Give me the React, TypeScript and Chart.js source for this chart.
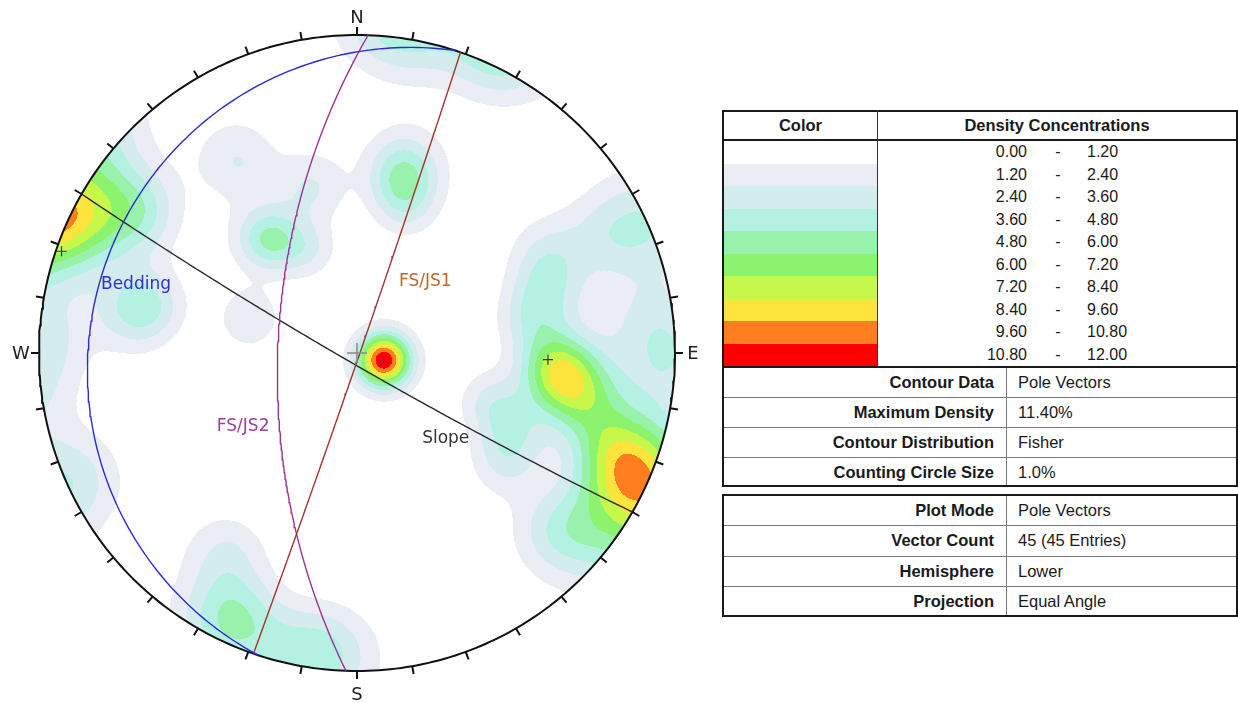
import React, { useEffect, useRef } from 'react';
import { Chart, registerables } from 'chart.js';

Chart.register(...registerables);

// ---------------- data ----------------
const planeNames = ['Bedding', 'FS/JS1', 'FS/JS2', 'Slope'];
const planeDipDirections = [288, 109, 272, 210];
const planeDips = [10, 89, 62, 86];
const planeShowsPole = [true, true, true, false];

// pole vectors (trend / plunge, degrees), 45 entries
const poleTrends = [
  105, 105, 105, 105, 105,
  96, 96, 92, 99, 72, 63, 79, 103, 115, 126, 110,
  114, 116, 112, 109, 128, 132,
  294, 302, 303,
  84, 273,
  205, 205, 190, 185,
  15, 14, 18,
  322, 322, 334,
  328, 345, 288, 281, 283, 246, 65, 213,
];
const polePlunges = [
  80, 80, 80, 80, 80,
  24, 24, 28, 21, 26, 22, 32, 16, 33, 30, 42,
  1, 4, 6, 9, 5, 10,
  2, 12, 8,
  4, 0,
  4, 4, 2, 3,
  31, 27, 38,
  41, 41, 50,
  19, 33, 51, 19, 22, 2, 7, 16,
];

const densityBreaks = [0, 1.2, 2.4, 3.6, 4.8, 6.0, 7.2, 8.4, 9.6, 10.8, 12.0];
const densityColors = [
  '#ffffff', '#eaedf4', '#d5ecef', '#b5f1e2', '#98f2ac',
  '#8cf36e', '#c8f74c', '#fde43c', '#fd7d1f', '#ff0000',
];

const contourInfoLabels = ['Contour Data', 'Maximum Density', 'Contour Distribution', 'Counting Circle Size'];
const contourInfoValues = ['Pole Vectors', '11.40%', 'Fisher', '1.0%'];
const plotInfoLabels = ['Plot Mode', 'Vector Count', 'Hemisphere', 'Projection'];
const plotInfoValues = ['Pole Vectors', '45 (45 Entries)', 'Lower', 'Equal Angle'];

const compassLabels = ['N', 'E', 'S', 'W'];
const compassAzimuths = [0, 90, 180, 270];
const tickAzimuths = Array.from({ length: 36 }, (_, i) => i * 10);

// ---------------- styles ----------------
const planeColors = ['#2b2bd2', '#a3352e', '#9a3498', '#2a2a2a'];
const planeLabelColors = ['#2d2dd0', '#c2652c', '#a03ea0', '#333333'];
const planeLabelAnchors = [
  [-0.695, 0.214],
  [0.215, 0.225],
  [-0.358, -0.232],
  [0.279, -0.268],
];
const compassOffsetsPx = [18, 18, 23, 18];
const KAPPA = 70;
const KERNEL_WEIGHT = 1.07;

// ---------------- geometry helpers ----------------
const RAD = Math.PI / 180;
function project(trend: number, plunge: number) {
  const r = Math.tan(((90 - plunge) / 2) * RAD);
  return { x: r * Math.sin(trend * RAD), y: r * Math.cos(trend * RAD) };
}
function toVec(trend: number, plunge: number): number[] {
  const c = Math.cos(plunge * RAD);
  return [c * Math.sin(trend * RAD), c * Math.cos(trend * RAD), Math.sin(plunge * RAD)];
}
function vecToTrendPlunge(v: number[]) {
  let [e, n, d] = v;
  if (d < 0) { e = -e; n = -n; d = -d; }
  const pl = Math.asin(Math.min(1, d)) / RAD;
  const tr = Math.atan2(e, n) / RAD;
  return [tr, pl];
}
function greatCircle(dipDir: number, dip: number) {
  const s = [Math.sin((dipDir - 90) * RAD), Math.cos((dipDir - 90) * RAD), 0];
  const dv = toVec(dipDir, dip);
  const pts: { x: number; y: number }[] = [];
  for (let t = 0; t <= 180; t += 1) {
    const c = Math.cos(t * RAD), sn = Math.sin(t * RAD);
    const v = [s[0] * c + dv[0] * sn, s[1] * c + dv[1] * sn, s[2] * c + dv[2] * sn];
    const [tr, pl] = vecToTrendPlunge(v);
    pts.push(project(tr, pl));
  }
  return pts;
}
function hexToRgb(h: string) {
  const n = parseInt(h.slice(1), 16);
  return [(n >> 16) & 255, (n >> 8) & 255, n & 255];
}

// ---------------- plugins ----------------
const densityPlugin = {
  id: 'densityLayer',
  beforeDatasetsDraw(chart: any) {
    const xs = chart.scales.x, ys = chart.scales.y, ctx = chart.ctx;
    const left = Math.floor(xs.getPixelForValue(-1)) - 1;
    const right = Math.ceil(xs.getPixelForValue(1)) + 1;
    const top = Math.floor(ys.getPixelForValue(1)) - 1;
    const bottom = Math.ceil(ys.getPixelForValue(-1)) + 1;
    const w = right - left, h = bottom - top;
    const off = document.createElement('canvas');
    off.width = w; off.height = h;
    const octx = off.getContext('2d')!;
    const img = octx.createImageData(w, h);
    const poles = poleTrends.map((t, i) => toVec(t, polePlunges[i]));
    const scale = (100 / poles.length) * KERNEL_WEIGHT;
    const rgb = densityColors.map(hexToRgb);
    const colX = new Float64Array(w);
    for (let i = 0; i < w; i++) colX[i] = xs.getValueForPixel(left + i + 0.5);
    for (let j = 0; j < h; j++) {
      const Y = ys.getValueForPixel(top + j + 0.5);
      for (let i = 0; i < w; i++) {
        const X = colX[i];
        const r2 = X * X + Y * Y;
        if (r2 > 1) continue;
        const k = 1 / (1 + r2);
        const e = 2 * X * k, n = 2 * Y * k, d = (1 - r2) * k;
        let s = 0;
        for (let p = 0; p < poles.length; p++) {
          const pv = poles[p];
          const c = Math.abs(e * pv[0] + n * pv[1] + d * pv[2]);
          if (c > 0.8) s += Math.exp(KAPPA * (c - 1));
        }
        const dens = s * scale;
        let lvl = 0;
        for (let b = 1; b < densityBreaks.length - 1; b++) if (dens >= densityBreaks[b]) lvl = b;
        const col = rgb[lvl];
        const o = (j * w + i) * 4;
        img.data[o] = col[0]; img.data[o + 1] = col[1]; img.data[o + 2] = col[2]; img.data[o + 3] = 255;
      }
    }
    octx.putImageData(img, 0, 0);
    ctx.save();
    ctx.drawImage(off, left, top);
    ctx.restore();
  },
};

const overlayPlugin = {
  id: 'stereoOverlay',
  afterDatasetsDraw(chart: any) {
    const xs = chart.scales.x, ys = chart.scales.y, ctx = chart.ctx;
    const cx = xs.getPixelForValue(0), cy = ys.getPixelForValue(0);
    const R = xs.getPixelForValue(1) - cx;
    ctx.save();
    ctx.strokeStyle = '#111';
    ctx.lineWidth = 2;
    tickAzimuths.forEach((az) => {
      const sx = Math.sin(az * RAD), sy = Math.cos(az * RAD);
      ctx.beginPath();
      ctx.moveTo(xs.getPixelForValue(sx), ys.getPixelForValue(sy));
      ctx.lineTo(cx + (R + 8) * sx, cy - (R + 8) * sy);
      ctx.stroke();
    });
    ctx.fillStyle = '#222';
    ctx.font = '18px "DejaVu Sans", Verdana, sans-serif';
    ctx.textAlign = 'center';
    ctx.textBaseline = 'middle';
    compassLabels.forEach((lab, i) => {
      const az = compassAzimuths[i];
      const d = R + compassOffsetsPx[i];
      ctx.fillText(lab, cx + d * Math.sin(az * RAD), cy - d * Math.cos(az * RAD) + 1);
    });
    ctx.font = '17px "DejaVu Sans", Verdana, sans-serif';
    planeNames.forEach((name, i) => {
      const [ax, ay] = planeLabelAnchors[i];
      ctx.fillStyle = planeLabelColors[i];
      ctx.fillText(name, xs.getPixelForValue(ax), ys.getPixelForValue(ay));
    });
    ctx.restore();
  },
};

// ---------------- chart ----------------
function Stereonet() {
  const ref = useRef<HTMLCanvasElement | null>(null);
  useEffect(() => {
    if (!ref.current) return;
    const primitive = Array.from({ length: 361 }, (_, a) => ({ x: Math.sin(a * RAD), y: Math.cos(a * RAD) }));
    const datasets: any[] = [];
    datasets.push({
      data: primitive, showLine: true, pointRadius: 0, borderColor: '#111', borderWidth: 2,
      fill: false, clip: false, order: 5,
    });
    planeNames.forEach((name, i) => {
      datasets.push({
        label: name, data: greatCircle(planeDipDirections[i], planeDips[i]), showLine: true,
        pointRadius: 0, borderColor: planeColors[i], borderWidth: 1.4, fill: false, clip: false, order: 3,
      });
    });
    const poleIdx = planeNames.map((_, i) => i).filter((i) => planeShowsPole[i]);
    datasets.push({
      label: 'Plane poles',
      data: poleIdx.map((i) => project(planeDipDirections[i] + 180, 90 - planeDips[i])),
      pointStyle: 'cross', pointRadius: 5, pointBorderWidth: 1.2,
      pointBorderColor: poleIdx.map((i) => (i === 0 ? '#5a2a9a' : '#3a3034')),
      showLine: false, clip: false, order: 1,
    });
    datasets.push({
      label: 'Centre', data: [{ x: 0, y: 0 }], pointStyle: 'cross', pointRadius: 10,
      pointBorderWidth: 1.5, pointBorderColor: '#8a8a8a', showLine: false, clip: false, order: 2,
    });
    const chart = new Chart(ref.current, {
      type: 'scatter',
      data: { datasets },
      options: {
        animation: false,
        responsive: false,
        events: [],
        layout: { padding: { left: 39, right: 39, top: 35, bottom: 32 } },
        scales: {
          x: { type: 'linear', min: -1, max: 1, display: false },
          y: { type: 'linear', min: -1, max: 1, display: false },
        },
        plugins: { legend: { display: false }, tooltip: { enabled: false } },
      },
      plugins: [densityPlugin, overlayPlugin],
    } as any);
    return () => chart.destroy();
  }, []);
  return <canvas ref={ref} width={714} height={703} style={{ position: 'absolute', left: 0, top: 0 }} />;
}

// ---------------- table ----------------
const FONT = '"Liberation Sans", Arial, Helvetica, sans-serif';
const abs = (x: number, y: number, w: number, h: number, extra: any = {}) => ({
  position: 'absolute' as const, left: x, top: y, width: w, height: h, boxSizing: 'border-box' as const, ...extra,
});
const textCell = (x: number, y: number, w: number, h: number, align: string, bold: boolean, size = 16.5) =>
  abs(x, y, w, h, {
    display: 'flex', alignItems: 'center',
    justifyContent: align === 'right' ? 'flex-end' : align === 'center' ? 'center' : 'flex-start',
    fontFamily: FONT, fontSize: size, fontWeight: bold ? 'bold' : 'normal', color: '#1a1a1a', whiteSpace: 'nowrap',
  });

function InfoTable() {
  const rowH = 22.5;
  const bandTop = 141;
  const lower1 = [367, 397, 427, 457, 487];
  const lower2 = [495, 525.5, 556, 586.5, 617];
  const els: any[] = [];
  els.push(<div key="t1" style={abs(722, 110, 516, 377, { border: '2px solid #1a1a1a' })} />);
  els.push(<div key="hl" style={abs(722, 139, 516, 2, { background: '#1a1a1a' })} />);
  els.push(<div key="vd" style={abs(877, 110, 1, 257, { background: '#333' })} />);
  els.push(<div key="hc" style={textCell(724, 112, 153, 27, 'center', true)}>Color</div>);
  els.push(<div key="hd" style={textCell(878, 112, 358, 27, 'center', true)}>Density Concentrations</div>);
  densityColors.forEach((c, i) => {
    const y = bandTop + rowH * i;
    els.push(<div key={'b' + i} style={abs(724, Math.round(y), 153, Math.round(y + rowH) - Math.round(y), { background: c })} />);
    els.push(<div key={'lo' + i} style={textCell(940, y, 87, rowH, 'right', false, 16)}>{densityBreaks[i].toFixed(2)}</div>);
    els.push(<div key={'da' + i} style={textCell(1048, y, 20, rowH, 'center', false, 16)}>-</div>);
    els.push(<div key={'hi' + i} style={textCell(1087, y, 100, rowH, 'left', false, 16)}>{densityBreaks[i + 1].toFixed(2)}</div>);
  });
  els.push(<div key="sep" style={abs(722, 366, 516, 2, { background: '#1a1a1a' })} />);
  els.push(<div key="vd2" style={abs(1006, 368, 1, 117, { background: '#7a7a7a' })} />);
  contourInfoLabels.forEach((lab, i) => {
    const y0 = lower1[i], y1 = lower1[i + 1];
    if (i > 0) els.push(<div key={'l1' + i} style={abs(724, y0 - 0.5, 512, 1, { background: '#7a7a7a' })} />);
    els.push(<div key={'cl' + i} style={textCell(724, y0, 270, y1 - y0, 'right', true)}>{lab}</div>);
    els.push(<div key={'cv' + i} style={textCell(1018, y0, 215, y1 - y0, 'left', false)}>{contourInfoValues[i]}</div>);
  });
  els.push(<div key="t2" style={abs(722, 494, 516, 123, { border: '2px solid #1a1a1a' })} />);
  els.push(<div key="vd3" style={abs(1006, 496, 1, 119, { background: '#7a7a7a' })} />);
  plotInfoLabels.forEach((lab, i) => {
    const y0 = lower2[i], y1 = lower2[i + 1];
    if (i > 0) els.push(<div key={'l2' + i} style={abs(724, y0 - 0.5, 512, 1, { background: '#7a7a7a' })} />);
    els.push(<div key={'pl' + i} style={textCell(724, y0, 270, y1 - y0, 'right', true)}>{lab}</div>);
    els.push(<div key={'pv' + i} style={textCell(1018, y0, 215, y1 - y0, 'left', false)}>{plotInfoValues[i]}</div>);
  });
  return <>{els}</>;
}

export default function App() {
  return (
    <div style={{ position: 'absolute', left: 0, top: 0, width: 1238, height: 703, background: '#ffffff', overflow: 'hidden' }}>
      <Stereonet />
      <InfoTable />
    </div>
  );
}
